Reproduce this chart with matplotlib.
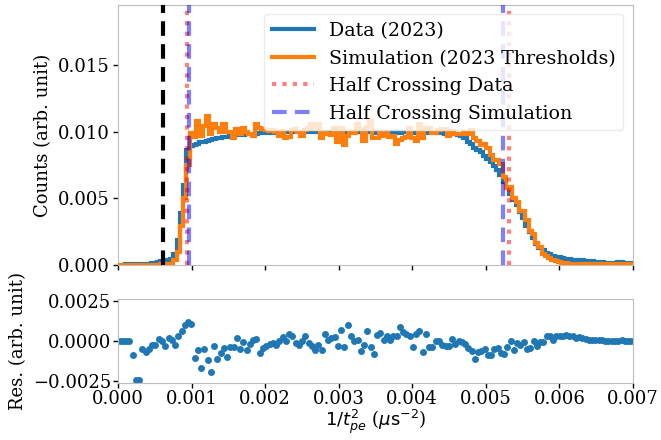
import numpy as np
import matplotlib
matplotlib.use("Agg")
import matplotlib.pyplot as plt

plt.rcParams['font.family'] = ['DejaVu Serif']
plt.rcParams['mathtext.fontset'] = 'dejavusans'

# ---------------- data ----------------
x_min, x_max, n_bins = 0.0, 0.007, 158

data_counts = [
    0.00003, 0.00003, 0.00004, 0.00004, 0.00005, 0.00006, 0.00007, 0.00008, 0.00009, 0.00010,
    0.00012, 0.00015, 0.00020, 0.00030, 0.00035, 0.00040, 0.00042, 0.00080, 0.00190, 0.00390,
    0.00600, 0.00860, 0.00890, 0.00900, 0.00910, 0.00920, 0.00925, 0.00930, 0.00940, 0.00945,
    0.00950, 0.00955, 0.00960, 0.00962, 0.00965, 0.00970, 0.00972, 0.00975, 0.00978, 0.00980,
    0.00982, 0.00985, 0.00985, 0.00988, 0.00990, 0.00992, 0.00995, 0.00990, 0.00996, 0.00994,
    0.01000, 0.00996, 0.00994, 0.00998, 0.01000, 0.00997, 0.00995, 0.00999, 0.01001, 0.00998,
    0.00996, 0.01000, 0.00998, 0.00995, 0.00997, 0.01000, 0.00999, 0.00996, 0.00994, 0.00998,
    0.01000, 0.00997, 0.00995, 0.00999, 0.00996, 0.00994, 0.00998, 0.00996, 0.00993, 0.00997,
    0.00995, 0.00998, 0.00996, 0.00994, 0.00997, 0.00995, 0.00993, 0.00996, 0.00994, 0.00992,
    0.00995, 0.00993, 0.00990, 0.00994, 0.00991, 0.00989, 0.00992, 0.00990, 0.00987, 0.00989,
    0.00986, 0.00984, 0.00985, 0.00982, 0.00978, 0.00970, 0.00955, 0.00920, 0.00905, 0.00880,
    0.00865, 0.00845, 0.00820, 0.00795, 0.00775, 0.00745, 0.00715, 0.00675, 0.00625, 0.00575,
    0.00530, 0.00490, 0.00450, 0.00400, 0.00350, 0.00295, 0.00250, 0.00200, 0.00160, 0.00130,
    0.00110, 0.00092, 0.00080, 0.00070, 0.00063, 0.00058, 0.00052, 0.00045, 0.00042, 0.00040,
    0.00038, 0.00036, 0.00034, 0.00030, 0.00028, 0.00027, 0.00025, 0.00024, 0.00020, 0.00018,
    0.00017, 0.00016, 0.00016, 0.00021, 0.00020, 0.00013, 0.00012, 0.00012,
]

sim_counts = [
    0.00003, 0.00003, 0.00003, 0.00003, 0.00003, 0.00003, 0.00003, 0.00003, 0.00003, 0.00003,
    0.00003, 0.00003, 0.00003, 0.00008, 0.00008, 0.00008, 0.00008, 0.00040, 0.00100, 0.00290,
    0.00500, 0.00750, 0.00990, 0.00960, 0.01080, 0.00970, 0.01040, 0.01120, 0.00980, 0.01060,
    0.01030, 0.01000, 0.01060, 0.01000, 0.01000, 0.00950, 0.01020, 0.00980, 0.01030, 0.01000,
    0.00980, 0.00970, 0.01060, 0.01030, 0.01020, 0.01010, 0.01007, 0.01012, 0.00994, 0.00970,
    0.01002, 0.00954, 0.00962, 0.01010, 0.01022, 0.00999, 0.00967, 0.01011, 0.01029, 0.01056,
    0.01022, 0.01058, 0.00956, 0.00987, 0.00979, 0.00976, 0.01031, 0.00925, 0.01030, 0.00901,
    0.00970, 0.00995, 0.00987, 0.01061, 0.01018, 0.00932, 0.01036, 0.01077, 0.00955, 0.00949,
    0.00987, 0.00970, 0.00992, 0.00962, 0.00965, 0.00908, 0.00939, 0.00952, 0.00960, 0.01030,
    0.00951, 0.00931, 0.01057, 0.00950, 0.01029, 0.01027, 0.00990, 0.00988, 0.01009, 0.01021,
    0.01018, 0.00970, 0.01003, 0.00984, 0.00986, 0.00986, 0.00997, 0.00982, 0.01015, 0.00951,
    0.00927, 0.00897, 0.00905, 0.00880, 0.00827, 0.00787, 0.00790, 0.00756, 0.00663, 0.00577,
    0.00588, 0.00502, 0.00472, 0.00408, 0.00402, 0.00337, 0.00252, 0.00232, 0.00168, 0.00138,
    0.00082, 0.00064, 0.00050, 0.00036, 0.00031, 0.00022, 0.00014, 0.00012, 0.00010, 0.00009,
    0.00008, 0.00008, 0.00007, 0.00007, 0.00006, 0.00006, 0.00006, 0.00005, 0.00005, 0.00005,
    0.00005, 0.00004, 0.00004, 0.00004, 0.00004, 0.00004, 0.00004, 0.00004,
]

residuals = [
    0.0, 0.0, 0.0, 0.0, -0.0009, -0.0024, -0.0024, -0.00048, -0.00071, -0.00052,
    -0.00022, -0.00026, 0.0001, -0.00002, -0.00032, 0.00018, 0.00004, -0.00022, 0.00028, 0.00062,
    0.0010, 0.00117, 0.00103, -0.00105, -0.00058, -0.00167, -0.00052, -0.00117, -0.0019, -0.00032,
    -0.0011, -0.00077, -0.00042, -0.00097, -0.00038, -0.00038, 0.00016, -0.00052, -0.00008, -0.00055,
    -0.00018, 0.00004, 0.00012, -0.00077, -0.00042, -0.00032, -0.00018, -0.00012, -0.00022, 0.00002,
    0.00024, -0.00002, 0.00042, 0.00032, -0.00012, -0.00022, -0.00002, 0.00028, -0.00012, -0.00028,
    -0.00058, -0.00026, -0.00058, 0.00042, 0.00008, 0.00018, 0.00024, -0.00032, 0.00071, -0.00036,
    0.00097, 0.0003, 0.00002, 0.00008, -0.00062, -0.00022, 0.00062, -0.00038, -0.00081, 0.00038,
    0.00048, 0.00008, 0.00028, 0.00004, 0.00032, 0.00032, 0.00087, 0.00054, 0.00044, 0.00034,
    -0.00038, 0.00044, 0.00062, -0.00067, 0.00044, -0.00038, -0.00038, 0.00002, 0.00002, -0.00022,
    -0.00032, -0.00032, 0.00014, -0.00018, -0.00002, -0.00008, -0.00016, -0.00042, -0.00062, -0.0011,
    -0.00071, -0.00062, -0.00052, -0.00085, -0.00085, -0.00052, -0.00042, -0.00075, -0.00081, -0.00038,
    -0.00002, -0.00058, -0.00012, -0.00022, -0.00008, -0.00052, -0.00042, -0.00002, -0.00032, -0.00008,
    -0.00008, 0.00028, 0.00028, 0.00004, 0.00034, 0.00032, 0.00028, 0.00038, 0.00028, 0.00028,
    0.00018, 0.00024, 0.00018, 0.00014, 0.00008, 0.00008, 0.00008, 0.00004, 0.00004, 0.00002,
    -0.00002, -0.00002, -0.00002, 0.00002, 0.00006, 0.00002, -0.00002, -0.00002,
]

threshold_cut = 0.00061
half_cross_data = [0.000935, 0.00532]
half_cross_sim = [0.000972, 0.00523]

# ---------------- plot ----------------
edges = np.linspace(x_min, x_max, n_bins + 1)
centers = 0.5 * (edges[:-1] + edges[1:])

fig = plt.figure(figsize=(6.61, 4.40), dpi=100)
ax = fig.add_axes([0.1785, 0.3977, 0.779, 0.591])
axr = fig.add_axes([0.1785, 0.130, 0.779, 0.190], sharex=ax)

blue = '#1f77b4'
orange = '#ff7f0e'

ax.stairs(data_counts, edges, color=blue, lw=3.0, label='Data (2023)', zorder=2)
ax.stairs(sim_counts, edges, color=orange, lw=3.0, label='Simulation (2023 Thresholds)', zorder=3)
ax.axvline(threshold_cut, color='black', ls=(0, (3.5, 2)), lw=3.0, zorder=4)
for i, v in enumerate(half_cross_data):
    ax.axvline(v, color='red', alpha=0.5, ls=(0, (1, 1.5)), lw=3.0, zorder=5,
               label='Half Crossing Data' if i == 0 else None)
for i, v in enumerate(half_cross_sim):
    ax.axvline(v, color='blue', alpha=0.5, ls=(0, (3.5, 2)), lw=3.0, zorder=5,
               label='Half Crossing Simulation' if i == 0 else None)

ax.set_xlim(x_min, x_max)
ax.set_ylim(0, 0.0195)
ax.set_yticks([0.0, 0.005, 0.010, 0.015])
ax.set_yticklabels(['0.000', '0.005', '0.010', '0.015'])
ax.set_ylabel('Counts (arb. unit)', fontsize=13)
ax.tick_params(labelbottom=False, labelsize=13, length=3.5, width=1, pad=2.5)
leg = ax.legend(loc='upper right', fontsize=13.7, framealpha=0.8, handlelength=2.2)
leg.set_zorder(10)
leg.get_frame().set_edgecolor('#e6e6e6')

axr.plot(centers, residuals, 'o', color=blue, ms=5, mew=0)
axr.set_ylim(-0.0026, 0.0026)
axr.set_yticks([-0.0025, 0.0, 0.0025])
axr.set_xticks(np.arange(0, 0.0071, 0.001))
axr.set_xticklabels(['0.000', '0.001', '0.002', '0.003', '0.004', '0.005', '0.006', '0.007'])
axr.set_ylabel('Res. (arb. unit)', fontsize=13)
axr.set_xlabel(r'$1/t_{pe}^2$ ($\mu \mathrm{s}^{-2}$)', fontsize=13, labelpad=0)
axr.tick_params(labelsize=13, length=3.5, width=1, pad=1.5)

for a in (ax, axr):
    for s in a.spines.values():
        s.set_color('#bdbdbd')

fig.savefig('out.png', dpi=100)
